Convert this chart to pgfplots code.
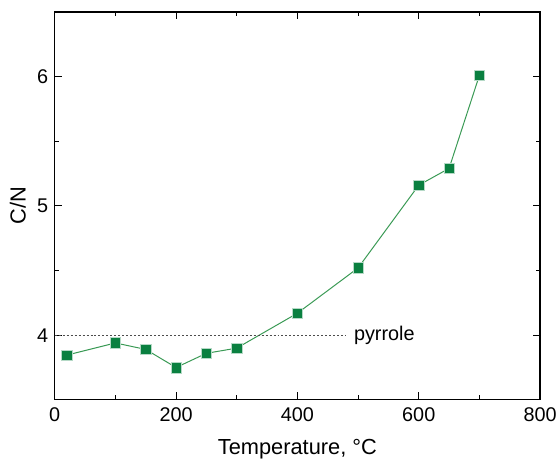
\documentclass[border=0pt]{standalone}
\usepackage{fontspec}
\setmainfont{Liberation Sans}
\usepackage{pgfplots}
\pgfplotsset{compat=1.18}
\definecolor{markgreen}{HTML}{0A8040}
\definecolor{linegreen}{HTML}{3A9A55}
\begin{document}
\begin{tikzpicture}
\useasboundingbox (-55bp,-61bp) rectangle (506bp,402bp);
\begin{axis}[
  at={(0,0)}, anchor=south west,
  scale only axis,
  width=488bp, height=390bp,
  xmin=0, xmax=800, ymin=3.5, ymax=6.5,
  xtick={0,200,400,600,800},
  minor xtick={100,300,500,700},
  ytick={4,5,6},
  minor ytick={3.5,4.5,5.5,6.5},
  tick align=inside,
  major tick length=7.5bp, minor tick length=4.5bp,
  axis line style={line width=1.3bp},
  every tick/.style={black, line width=1.1bp},
  font=\fontsize{20}{24}\selectfont,
  ticklabel style={font=\fontsize{20}{24}\selectfont},
  /pgf/number format/assume math mode=true,
  xticklabel style={yshift=-4bp},
  yticklabel style={xshift=-3bp},
  xlabel={Temperature, °C},
  ylabel={C/N},
  label style={font=\fontsize{22}{26}\selectfont},
  xlabel style={at={(axis description cs:0.5,-0.141)}, anchor=base},
  ylabel style={at={(axis description cs:-0.0758,0.5)}, anchor=center},
]
\addplot[linegreen, line width=1bp, mark=square*, mark size=5.3bp,
  mark options={fill=markgreen, draw=white!70!markgreen, line width=0.5bp}]
  coordinates {
  (20,3.846) (100,3.94) (150,3.89) (200,3.75) (250,3.86) (300,3.90)
  (400,4.17) (500,4.52) (600,5.16) (650,5.29) (700,6.01)
};
\addplot[black!70, line width=0.6bp, dash pattern=on 2bp off 2bp]
  coordinates {(0,4) (479,4)};
\node[anchor=west, inner sep=0pt, font=\fontsize{20}{24}\selectfont] at (axis cs:493,4) {pyrrole};
\end{axis}
\end{tikzpicture}
\end{document}
